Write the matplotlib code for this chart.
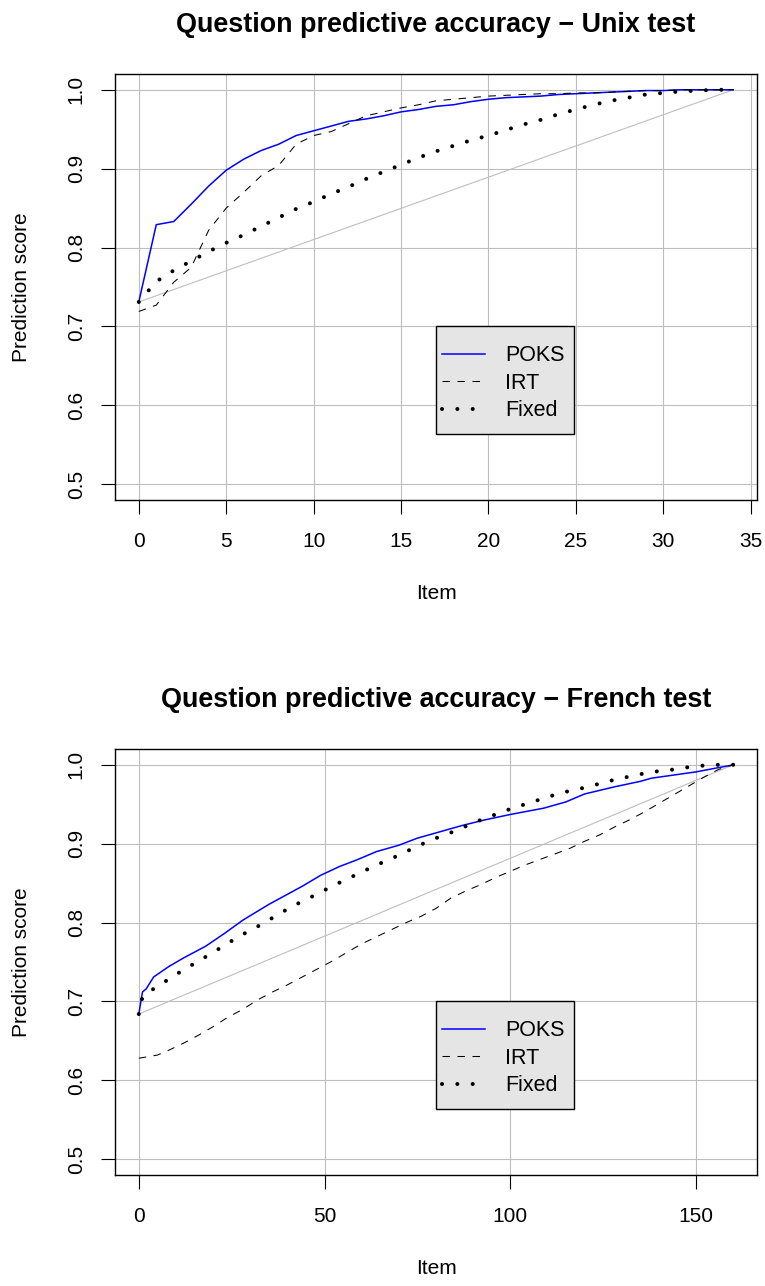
import numpy as np
import matplotlib.pyplot as plt
import matplotlib.transforms as mtransforms
from matplotlib.patches import Rectangle

plt.rcParams['font.family'] = ['Liberation Sans', 'DejaVu Sans']

# Unix test: one value per item
unix_items = list(range(35))
unix_poks = [0.731, 0.829, 0.833, 0.855, 0.878, 0.898, 0.912, 0.923, 0.931,
             0.942, 0.948, 0.954, 0.960, 0.963, 0.967, 0.972, 0.975, 0.979,
             0.981, 0.985, 0.988, 0.990, 0.991, 0.992, 0.994, 0.995, 0.996,
             0.997, 0.998, 0.999, 0.999, 1.0, 1.0, 1.0, 1.0]
unix_irt = [0.719, 0.727, 0.756, 0.775, 0.822, 0.850, 0.870, 0.891, 0.904,
            0.931, 0.942, 0.947, 0.957, 0.967, 0.972, 0.977, 0.981, 0.986,
            0.988, 0.990, 0.992, 0.993, 0.994, 0.995, 0.995, 0.996, 0.996,
            0.997, 0.998, 0.999, 0.999, 1.0, 1.0, 1.0, 1.0]
unix_fixed = [0.731, 0.757, 0.771, 0.783, 0.795, 0.806, 0.816, 0.827, 0.838,
              0.849, 0.858, 0.868, 0.877, 0.887, 0.896, 0.905, 0.914, 0.922,
              0.929, 0.936, 0.942, 0.949, 0.956, 0.962, 0.969, 0.975, 0.981,
              0.986, 0.990, 0.994, 0.996, 0.998, 0.999, 1.0, 1.0]

# French test: values read at a subset of items
french_poks_items = [0, 1, 2, 4, 8, 12, 18, 23, 28, 35, 44, 49, 54, 59, 64,
                     70, 75, 81, 87, 93, 100, 109, 115, 120, 128, 135, 138,
                     150, 159, 160]
french_poks = [0.684, 0.712, 0.716, 0.731, 0.744, 0.755, 0.770, 0.786, 0.803,
               0.823, 0.846, 0.860, 0.871, 0.880, 0.890, 0.898, 0.907, 0.915,
               0.923, 0.930, 0.937, 0.945, 0.953, 0.963, 0.972, 0.979, 0.983,
               0.991, 0.999, 1.0]
french_irt_items = [0, 5, 8, 12, 16, 20, 24, 28, 32, 36, 40, 44, 48, 52, 56,
                    60, 64, 68, 72, 76, 80, 84, 88, 92, 96, 100, 104, 108,
                    112, 116, 120, 124, 128, 132, 136, 140, 144, 148, 152,
                    156, 160]
french_irt = [0.628, 0.632, 0.638, 0.647, 0.657, 0.668, 0.680, 0.690, 0.702,
              0.712, 0.721, 0.731, 0.741, 0.751, 0.762, 0.773, 0.782, 0.791,
              0.800, 0.808, 0.818, 0.831, 0.840, 0.848, 0.857, 0.865, 0.873,
              0.880, 0.887, 0.894, 0.903, 0.911, 0.921, 0.930, 0.940, 0.951,
              0.962, 0.973, 0.984, 0.994, 1.0]
french_fixed_items = [0, 1, 4, 8, 12, 16, 20, 24, 28, 32, 36, 40, 44, 48, 52,
                      56, 60, 64, 68, 72, 76, 80, 84, 88, 92, 96, 100, 104,
                      108, 112, 116, 120, 124, 128, 132, 136, 140, 144, 148,
                      152, 156, 160]
french_fixed = [0.684, 0.706, 0.716, 0.728, 0.740, 0.751, 0.762, 0.774,
                0.785, 0.795, 0.806, 0.817, 0.827, 0.836, 0.846, 0.855,
                0.864, 0.873, 0.881, 0.890, 0.899, 0.907, 0.914, 0.922,
                0.930, 0.937, 0.944, 0.950, 0.956, 0.962, 0.967, 0.971,
                0.976, 0.981, 0.985, 0.989, 0.992, 0.994, 0.997, 0.999,
                1.0, 1.0]

y_ticks = [0.5, 0.6, 0.7, 0.8, 0.9, 1.0]
GRID_GRAY = '#BEBEBE'
FS = 15
# extra padding (px) around the legend entries, like R's legend box
LEG_TOP, LEG_BOTTOM, LEG_RIGHT = 13, 7, 4


def drawPanel(fig, ax, title, poks_x, poks, irt_x, irt, fixed_x, fixed,
              xticks, legend_x):
    """ Draw one accuracy panel in the style of an R base plot. """

    xmin, xmax = poks_x[0], poks_x[-1]
    span = xmax - xmin
    ax.set_xlim(xmin - 0.04 * span, xmax + 0.04 * span)
    ax.set_ylim(0.48, 1.02)
    ax.set_xticks(xticks)
    ax.set_yticks(y_ticks)
    ax.set_yticklabels(['%.1f' % t for t in y_ticks])

    ax.grid(True, color=GRID_GRAY, lw=0.8, zorder=0)
    ax.set_axisbelow(True)

    # diagonal from the starting score to a perfect score
    ax.plot([poks_x[0], poks_x[-1]], [poks[0], poks[-1]],
            color=GRID_GRAY, lw=0.8, zorder=1)

    ax.plot(poks_x, poks, color='#0000FF', lw=1.1, label='POKS', zorder=3)
    ax.plot(irt_x, irt, color='black', lw=0.75, dashes=(7.2, 7.2),
            label='IRT', zorder=3)
    ax.plot(fixed_x, fixed, color='black', lw=2.9, dashes=(0.01, 3.8),
            dash_capstyle='round', label='Fixed', zorder=3)

    for s in ax.spines.values():
        s.set_linewidth(1.0)
        s.set_color('black')

    ax.tick_params(direction='out', length=10, width=0.8, labelsize=FS,
                   color='black')
    ax.tick_params(axis='x', pad=13)
    ax.tick_params(axis='y', pad=11)
    for lbl in ax.get_yticklabels():
        lbl.set_rotation(90)
        lbl.set_va('center')

    ax.set_title(title, fontsize=19.4, fontweight='bold', pad=30)
    ax.set_xlabel('Item', fontsize=FS, labelpad=24)
    ax.set_ylabel('Prediction score', fontsize=FS, labelpad=26)

    shift = mtransforms.ScaledTranslation(0, -LEG_TOP / fig.dpi,
                                          fig.dpi_scale_trans)
    leg = ax.legend(loc='upper left', bbox_to_anchor=(legend_x, 0.7),
                    bbox_transform=ax.transData + shift, borderaxespad=0,
                    fontsize=15.5, frameon=False,
                    handlelength=2.0, handletextpad=0.95, labelspacing=0.31,
                    borderpad=0.26)
    leg.set_zorder(5)
    return leg


def addLegendBox(fig, ax, leg):
    """ Put an R-like grey box behind the legend entries. """

    fig.canvas.draw()
    bb = leg.get_window_extent()
    box = Rectangle((bb.x0, bb.y0 - LEG_BOTTOM), bb.width + LEG_RIGHT,
                    bb.height + LEG_TOP + LEG_BOTTOM, transform=None,
                    facecolor='#E5E5E5', edgecolor='black', lw=1.0,
                    zorder=4, clip_on=False)
    ax.add_artist(box)


fig = plt.figure(figsize=(7.65, 12.86), dpi=100)
ax1 = fig.add_axes([115 / 765, 1 - 500 / 1286, 642 / 765, 426 / 1286])
ax2 = fig.add_axes([115 / 765, 1 - 1175 / 1286, 642 / 765, 426 / 1286])

leg1 = drawPanel(fig, ax1, 'Question predictive accuracy \u2212 Unix test',
                 unix_items, unix_poks, unix_items, unix_irt,
                 unix_items, unix_fixed, [0, 5, 10, 15, 20, 25, 30, 35], 17)
leg2 = drawPanel(fig, ax2, 'Question predictive accuracy \u2212 French test',
                 french_poks_items, french_poks, french_irt_items, french_irt,
                 french_fixed_items, french_fixed, [0, 50, 100, 150], 80)

addLegendBox(fig, ax1, leg1)
addLegendBox(fig, ax2, leg2)

plt.savefig('out.png', dpi=100)
